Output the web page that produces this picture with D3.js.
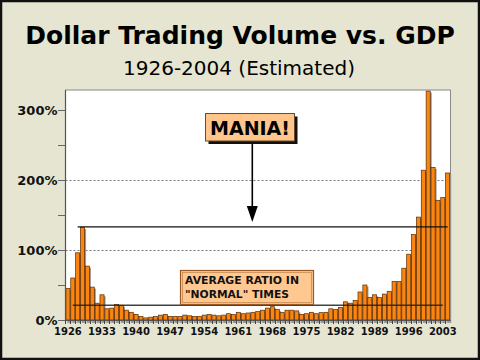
<!DOCTYPE html>
<html><head><meta charset="utf-8">
<script src="https://cdn.jsdelivr.net/npm/d3@7"></script>
<style>
html,body{margin:0;padding:0;background:#E5E5D1;}
svg{display:block;}
</style></head>
<body>
<svg id="c" width="480" height="360"></svg>
<script>
const firstYear = 1926, lastYear = 2004;
const years = d3.range(firstYear, lastYear + 1);
const ratio = [45,60,96,132,77,47,24,36,16,17,22,21,14,11,8,5,3,4,5,7,8,5,5,5,7,6,
  5,5,7,8,7,6,7,9,8,11,9,10,11,12,14,17,19,15,11,14,14,13,8,9,11,9,10.5,11,
  16,15,18,26,24,28,40,50,32,36,32,37,41,55,55,74,94,122,147,214,327,218,171,175,210];
const yTickValues = [0,100,200,300];
const yMinorTicks = [0,50,100,150,200,250,300];
const gridValues = [100,200];
const xTickLabels = ["1926","1933","1940","1947","1954","1961","1968","1975","1982","1989","1996","2003"];
const maniaLevel = 133, maniaFrom = 1928, maniaTo = 2004;
const normalLevel = 21, normalFrom = 1927, normalTo = 2003;
const title = "Dollar Trading Volume vs. GDP";
const subtitle = "1926-2004 (Estimated)";
const maniaText = "MANIA!";
const avgLines = ["AVERAGE RATIO IN", "\"NORMAL\" TIMES"];

const svg = d3.select("#c");
const W = 480, H = 360;
const font = "'DejaVu Sans', Verdana, sans-serif";

svg.append("rect").attr("x",1).attr("y",1).attr("width",W-2).attr("height",H-2)
  .attr("fill","#E5E5D1").attr("stroke","#111").attr("stroke-width",2.5);

const x = d3.scaleBand().domain(years).range([65.4, 450.2]).paddingInner(0.16).paddingOuter(0.1);
const y = d3.scaleLinear().domain([0,330]).range([320, 89]);

// title
const t = svg.append("text").attr("x",240).attr("y",43.5).attr("text-anchor","middle")
  .attr("font-family",font).attr("font-weight","bold").attr("font-size",25).attr("fill","#000").text(title);
if (t.node().getComputedTextLength() > 446) t.attr("textLength",446).attr("lengthAdjust","spacingAndGlyphs");
const st = svg.append("text").attr("x",239).attr("y",75).attr("text-anchor","middle")
  .attr("font-family",font).attr("font-size",20).attr("fill","#000").text(subtitle);
if (st.node().getComputedTextLength() > 234) st.attr("textLength",234).attr("lengthAdjust","spacingAndGlyphs");

// plot area
const px0 = 65.5, px1 = 450.5, py0 = 90, py1 = 320;
svg.append("rect").attr("x",px0).attr("y",py0).attr("width",px1-px0).attr("height",py1-py0)
  .attr("fill","#fff").attr("stroke","#8a8a8a").attr("stroke-width",1);

// gridlines
svg.append("g").selectAll("line").data(gridValues).join("line")
  .attr("x1",px0).attr("x2",px1).attr("y1",d=>Math.round(y(d))+0.5).attr("y2",d=>Math.round(y(d))+0.5)
  .attr("stroke","#777").attr("stroke-dasharray","2,2").attr("stroke-width",1);

// bar shadows
const bw = x.bandwidth();
svg.append("g").selectAll("rect").data(years).join("rect")
  .attr("x",d=>x(d)+1.5).attr("y",(d,i)=>y(ratio[i])+1.5)
  .attr("width",bw).attr("height",(d,i)=>y(0)-y(ratio[i])+1.5)
  .attr("fill","#9a9a9a");
// bars
svg.append("g").selectAll("rect").data(years).join("rect")
  .attr("x",d=>x(d)).attr("y",(d,i)=>y(ratio[i]))
  .attr("width",bw).attr("height",(d,i)=>y(0)-y(ratio[i]))
  .attr("fill","#FA8510").attr("stroke","#5a2a00").attr("stroke-width",0.7);

// reference lines
const cx = d => x(d) + bw/2;
svg.append("line").attr("x1",cx(maniaFrom)).attr("x2",cx(maniaTo))
  .attr("y1",y(maniaLevel)).attr("y2",y(maniaLevel)).attr("stroke","#111").attr("stroke-width",1.3);
svg.append("line").attr("x1",cx(normalFrom)).attr("x2",cx(normalTo))
  .attr("y1",y(normalLevel)).attr("y2",y(normalLevel)).attr("stroke","#222").attr("stroke-width",1.5).attr("opacity",0.85);

// y axis
svg.append("line").attr("x1",px0).attr("x2",px0).attr("y1",py0).attr("y2",py1).attr("stroke","#555").attr("stroke-width",1.2);
svg.append("g").selectAll("line").data(yMinorTicks).join("line")
  .attr("x1",58).attr("x2",px0).attr("y1",d=>Math.round(y(d))+0.5).attr("y2",d=>Math.round(y(d))+0.5)
  .attr("stroke","#666").attr("stroke-width",1);
svg.append("g").selectAll("text").data(yTickValues).join("text")
  .attr("x",57.5).attr("y",d=>y(d)+5).attr("text-anchor","end")
  .attr("font-family",font).attr("font-weight","bold").attr("font-size",13).attr("fill","#111")
  .text(d=>d+"%");

// x axis
svg.append("line").attr("x1",px0).attr("x2",px1).attr("y1",py1+0.5).attr("y2",py1+0.5).attr("stroke","#555");
svg.append("g").selectAll("line").data(years).join("line")
  .attr("x1",d=>Math.round(x(d)-x.step()*x.paddingInner()/2)+0.5).attr("x2",d=>Math.round(x(d)-x.step()*x.paddingInner()/2)+0.5)
  .attr("y1",py1).attr("y2",py1+4).attr("stroke","#444").attr("stroke-width",1);
svg.append("g").selectAll("text").data(xTickLabels).join("text")
  .attr("x",d=>cx(+d)).attr("y",334.5).attr("text-anchor","middle")
  .attr("font-family",font).attr("font-weight","bold").attr("font-size",10).attr("fill","#111")
  .text(d=>d);

// MANIA box
const mb = {x:205.5, y:113.5, w:89, h:27.5};
svg.append("rect").attr("x",mb.x+3).attr("y",mb.y+3).attr("width",mb.w).attr("height",mb.h).attr("fill","#111");
svg.append("rect").attr("x",mb.x).attr("y",mb.y).attr("width",mb.w).attr("height",mb.h)
  .attr("fill","#FFC58A").attr("stroke","#6a4a2a").attr("stroke-width",1);
svg.append("text").attr("x",mb.x+mb.w/2).attr("y",mb.y+21).attr("text-anchor","middle")
  .attr("font-family",font).attr("font-weight","bold").attr("font-size",19).attr("fill","#000").text(maniaText);
// arrow
const ax = 252.3;
svg.append("line").attr("x1",ax).attr("x2",ax).attr("y1",mb.y+mb.h+3).attr("y2",208).attr("stroke","#000").attr("stroke-width",1.6);
svg.append("path").attr("d",`M${ax-5.5},206 L${ax+5.5},206 L${ax},222 Z`).attr("fill","#000");

// average box
const ab = {x:180.5, y:270.5, w:133, h:34};
svg.append("rect").attr("x",ab.x).attr("y",ab.y).attr("width",ab.w).attr("height",ab.h)
  .attr("fill","#FFC890").attr("stroke","#9a5a25").attr("stroke-width",1.2);
svg.append("rect").attr("x",ab.x+2).attr("y",ab.y+2).attr("width",ab.w-4).attr("height",ab.h-4)
  .attr("fill","none").attr("stroke","#c98a50").attr("stroke-width",0.8);
svg.append("g").selectAll("text").data(avgLines).join("text")
  .attr("x",185).attr("y",(d,i)=>284+i*13.5)
  .attr("font-family",font).attr("font-weight","bold").attr("font-size",11).attr("fill","#111")
  .each(function(d){ d3.select(this).text(d); const tgt = d===avgLines[0]?114:104; if (this.getComputedTextLength()>tgt) d3.select(this).attr("textLength",tgt).attr("lengthAdjust","spacingAndGlyphs"); });
</script>
</body></html>
